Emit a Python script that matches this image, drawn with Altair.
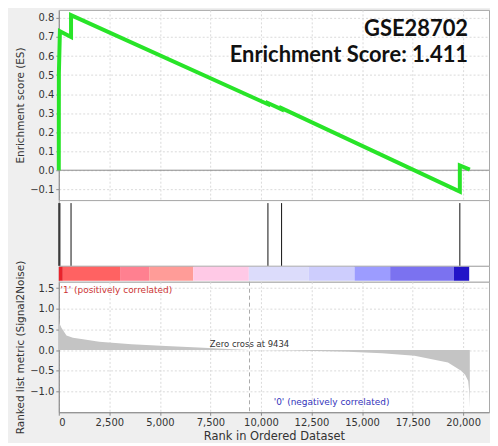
import altair as alt
import pandas as pd

# ---------------- data ----------------
# running enrichment score (rank, ES); repeated ranks are the jumps at hits
es_rank = [0, 5, 55, 606, 606, 10345, 10345, 11020, 11020, 19837, 19837, 20330]
es_value = [0.0, 0.51, 0.73, 0.700, 0.815, 0.347, 0.353, 0.320, 0.326, -0.112, 0.025, 0.003]

# positions of the gene-set members in the ranked list
hit_rank = [5, 55, 606, 10345, 11020, 19837]

# ranked list metric (Signal2Noise)
metric_rank = [0, 30, 130, 380, 700, 1200, 2000, 3600, 5300, 6900, 8600, 9434,
               11500, 14300, 16000, 17600, 19250, 19900, 20100, 20250, 20300, 20330]
metric_value = [0.83, 0.65, 0.54, 0.35, 0.30, 0.26, 0.20, 0.14, 0.10, 0.063, 0.02, 0.0,
                -0.01, -0.04, -0.08, -0.14, -0.30, -0.50, -0.60, -0.75, -1.0, -1.40]

# colour bar segments
bar_start = [0, 200, 3030, 4470, 6650, 9400, 12360, 14630, 16390, 19540]
bar_end = [200, 3030, 4470, 6650, 9400, 12360, 14630, 16390, 19540, 20300]
bar_color = ["#e8242c", "#ff6262", "#ff8090", "#ff9c98", "#ffc9e6",
             "#dcdcfb", "#cdcdfd", "#9c9cff", "#7b72f0", "#2214c8"]

zero_cross = 9434
x_ticks = [0, 2500, 5000, 7500, 10000, 12500, 15000, 17500, 20000]
es_ticks = [-0.1, 0.0, 0.1, 0.2, 0.3, 0.4, 0.5, 0.6, 0.7, 0.8]
metric_ticks = [-1.0, -0.5, 0.0, 0.5, 1.0, 1.5]

title_text = ["GSE28702", "Enrichment Score: 1.411"]
title_rank = [20245, 20245]
title_es = [0.742, 0.606]

pos_label = "'1' (positively correlated)"
neg_label = "'0' (negatively correlated)"
zero_label = f"Zero cross at {zero_cross}"

# ---------------- tables ----------------
es_df = pd.DataFrame({"rank": es_rank, "es": es_value, "order": list(range(len(es_rank)))})
hit_df = pd.DataFrame({"rank": hit_rank})
metric_df = pd.DataFrame({"rank": metric_rank, "metric": metric_value})
bar_df = pd.DataFrame({"start": bar_start, "end": bar_end, "color": bar_color})
zero_df = pd.DataFrame({"rank": [zero_cross], "label": [zero_label], "metric": [0.0]})
title_df = pd.DataFrame({"rank": title_rank, "es": title_es, "text": title_text})
zl_df = pd.DataFrame({"es": [0.0]})
lab_df = pd.DataFrame({"rank": [85, 10630], "metric": [1.46, -1.25],
                       "text": [pos_label, neg_label], "c": ["pos", "neg"]})

W = 432
X_DOM = [0, 21280]
ES_DOM = [-0.157, 0.8425]
M_DOM = [-1.507, 1.655]

x_scale = alt.Scale(domain=X_DOM, nice=False, zero=False)
top_x_axis = alt.Axis(values=x_ticks, labels=False, ticks=False, domain=False,
                      title=None, grid=True)
bot_x_axis = alt.Axis(values=x_ticks, format=",d", title="Rank in Ordered Dataset",
                      grid=True, titleFontSize=11.5, titlePadding=3, labelOverlap=False)

# ---------------- top panel: running ES ----------------
es_scale = alt.Scale(domain=ES_DOM, nice=False, zero=False)
es_axis = alt.Axis(values=es_ticks, format=".1f", title="Enrichment score (ES)",
                   labelOverlap=False, labelBound=False, grid=True)


def ex(field="rank:Q"):
    return alt.X(field, scale=x_scale, axis=top_x_axis)


def ey(field="es:Q"):
    return alt.Y(field, scale=es_scale, axis=es_axis)


es_line = alt.Chart(es_df).mark_line(color="#28e428", strokeWidth=4, interpolate="linear").encode(
    x=ex(), y=ey(), order="order:Q")
zero_line = alt.Chart(zl_df).mark_rule(color="#8a8a8a", strokeWidth=1).encode(y=ey())
title_marks = alt.Chart(title_df).mark_text(align="right", baseline="middle", font="Lato",
                                            fontSize=22, fontWeight="bold", color="#111111").encode(
    x=ex(), y=ey(), text="text:N")
top = alt.layer(zero_line, es_line, title_marks).properties(width=W, height=191)

# ---------------- hits panel ----------------
hits = alt.Chart(hit_df).mark_rule(color="#111111", strokeWidth=1).encode(
    x=alt.X("rank:Q", scale=x_scale, axis=None), y=alt.value(3), y2=alt.value(66)
).properties(width=W, height=66)

# ---------------- colour bar ----------------
cbar = alt.Chart(bar_df).mark_rect().encode(
    x=alt.X("start:Q", scale=x_scale, axis=None),
    x2="end:Q", y=alt.value(1), y2=alt.value(15),
    color=alt.Color("color:N", scale=None)).properties(width=W, height=16)

# ---------------- bottom panel: ranked list metric ----------------
m_scale = alt.Scale(domain=M_DOM, nice=False, zero=False)
m_axis = alt.Axis(values=metric_ticks, format=".1f", title="Ranked list metric (Signal2Noise)",
                  labelOverlap=False, labelBound=False, grid=True)


def bx(field="rank:Q"):
    return alt.X(field, scale=x_scale, axis=bot_x_axis)


def by(field="metric:Q"):
    return alt.Y(field, scale=m_scale, axis=m_axis)


area = alt.Chart(metric_df).mark_area(color="#c4c4c4", interpolate="linear", opacity=1).encode(
    x=bx(), y=alt.Y("metric:Q", scale=m_scale, axis=m_axis, stack=None))
zrule = alt.Chart(zero_df).mark_rule(color="#aaaaaa", strokeDash=[4, 3]).encode(x=bx())
ztext = alt.Chart(zero_df).mark_text(align="center", baseline="bottom", dy=-1, font="DejaVu Sans",
                                     fontSize=8.5, color="#333333").encode(
    x=bx(), y=by(), text="label:N")
labs = alt.Chart(lab_df).mark_text(align="left", baseline="middle", font="DejaVu Sans",
                                   fontSize=9).encode(
    x=bx(), y=by(), text="text:N",
    color=alt.Color("c:N", scale=alt.Scale(domain=["pos", "neg"], range=["#cc3333", "#3333bb"]),
                    legend=None))
bottom = alt.layer(area, zrule, ztext, labs).properties(width=W, height=131)

chart = alt.vconcat(top, hits, cbar, bottom, spacing=0, bounds="flush").properties(
    padding={"left": 7, "top": -3, "right": 0, "bottom": 0},
    background="#efefef",
).configure_view(
    fill="white", stroke="#a8a8a8", strokeWidth=1
).configure_axis(
    labelFont="DejaVu Sans", labelFontSize=10, labelColor="#333333",
    titleFont="DejaVu Sans", titleFontSize=10.5, titleColor="#333333", titleFontWeight="normal",
    gridColor="#dadada", gridDash=[2, 2], gridWidth=1,
    domainColor="#8a8a8a", tickColor="#8a8a8a", tickSize=3, labelPadding=2, titlePadding=4,
)

chart.save("out.html", embed_options={"renderer": "svg", "actions": False})
